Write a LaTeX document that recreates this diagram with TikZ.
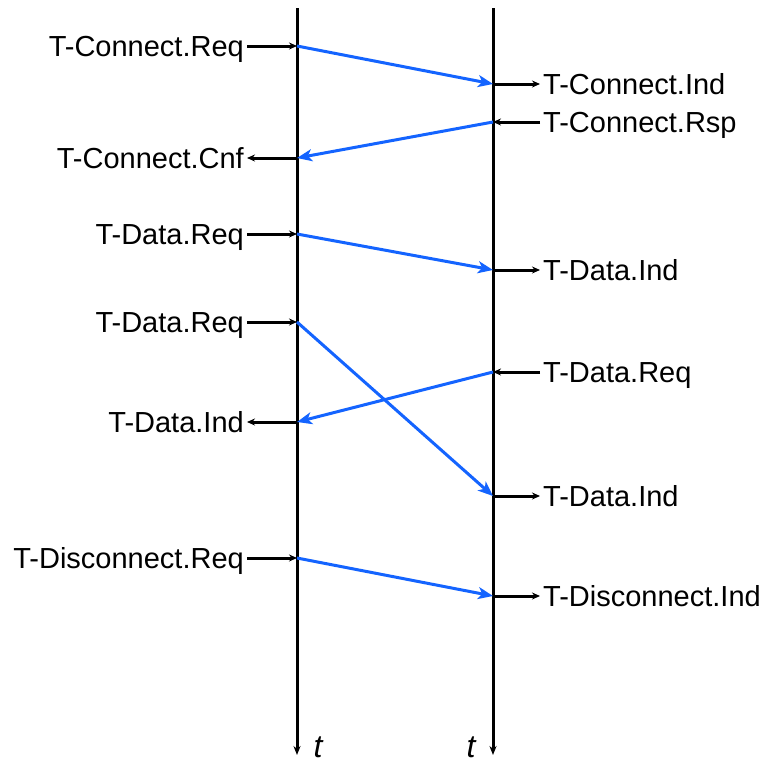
\documentclass[tikz,border=0pt]{standalone}
\usepackage{fontspec}
\setmainfont{Liberation Sans}
\usetikzlibrary{arrows.meta}

\definecolor{msgblue}{RGB}{20,100,255}

\begin{document}
\begin{tikzpicture}[x=1pt,y=-1pt,font=\fontsize{29}{32}\selectfont,
  timeline/.style={line width=3pt,-{Stealth[open,length=9pt,width=7pt]}},
  prim/.style={line width=3pt,-{Stealth[open,length=8pt,width=7pt]}},
  msg/.style={msgblue,line width=3pt,-{Stealth[length=15pt,width=12pt,inset=4pt]}},
  lbl/.style={inner sep=3pt},
  tlbl/.style={inner sep=0pt,anchor=base,font=\fontsize{32}{34}\selectfont\itshape}]
  \useasboundingbox (0,0) rectangle (779,766);

  % time lines
  \coordinate (atop) at (297,8);
  \coordinate (abot) at (297,755);
  \coordinate (btop) at (493,8);
  \coordinate (bbot) at (493,755);
  \draw[timeline] (atop) -- (abot);
  \draw[timeline] (btop) -- (bbot);
  \node[tlbl] (ta) at (318,757) {t};
  \node[tlbl] (tb) at (471,757) {t};

  % points on the time lines
  \coordinate (a1) at (297,46);  \coordinate (b1) at (493,84);
  \coordinate (b2) at (493,122); \coordinate (a2) at (297,158);
  \coordinate (a3) at (297,234); \coordinate (b3) at (493,270);
  \coordinate (a4) at (297,322); \coordinate (b4) at (493,496);
  \coordinate (b5) at (493,372); \coordinate (a5) at (297,422);
  \coordinate (a6) at (297,558); \coordinate (b6) at (493,596);

  % primitives
  \node[lbl,anchor=base east] (creq) at (247,56)  {T-Connect.Req};
  \node[lbl,anchor=base west] (cind) at (540,94)  {T-Connect.Ind};
  \node[lbl,anchor=base west] (crsp) at (540,132) {T-Connect.Rsp};
  \node[lbl,anchor=base east] (ccnf) at (247,168) {T-Connect.Cnf};
  \node[lbl,anchor=base east] (dreq1) at (247,244) {T-Data.Req};
  \node[lbl,anchor=base west] (dind1) at (540,280) {T-Data.Ind};
  \node[lbl,anchor=base east] (dreq2) at (247,332) {T-Data.Req};
  \node[lbl,anchor=base west] (dreq3) at (540,382) {T-Data.Req};
  \node[lbl,anchor=base east] (dind3) at (247,432) {T-Data.Ind};
  \node[lbl,anchor=base west] (dind2) at (540,506) {T-Data.Ind};
  \node[lbl,anchor=base east] (xreq) at (247,568) {T-Disconnect.Req};
  \node[lbl,anchor=base west] (xind) at (540,606) {T-Disconnect.Ind};

  \draw[prim] (creq.east |- a1) -- (a1);
  \draw[prim] (b1) -- (cind.west |- b1);
  \draw[prim] (crsp.west |- b2) -- (b2);
  \draw[prim] (a2) -- (ccnf.east |- a2);
  \draw[prim] (dreq1.east |- a3) -- (a3);
  \draw[prim] (b3) -- (dind1.west |- b3);
  \draw[prim] (dreq2.east |- a4) -- (a4);
  \draw[prim] (b4) -- (dind2.west |- b4);
  \draw[prim] (dreq3.west |- b5) -- (b5);
  \draw[prim] (a5) -- (dind3.east |- a5);
  \draw[prim] (xreq.east |- a6) -- (a6);
  \draw[prim] (b6) -- (xind.west |- b6);

  % messages
  \path[msg] (a1) edge (b1)
             (b2) edge (a2)
             (a3) edge (b3)
             (a4) edge (b4)
             (b5) edge (a5)
             (a6) edge (b6);
\end{tikzpicture}
\end{document}
